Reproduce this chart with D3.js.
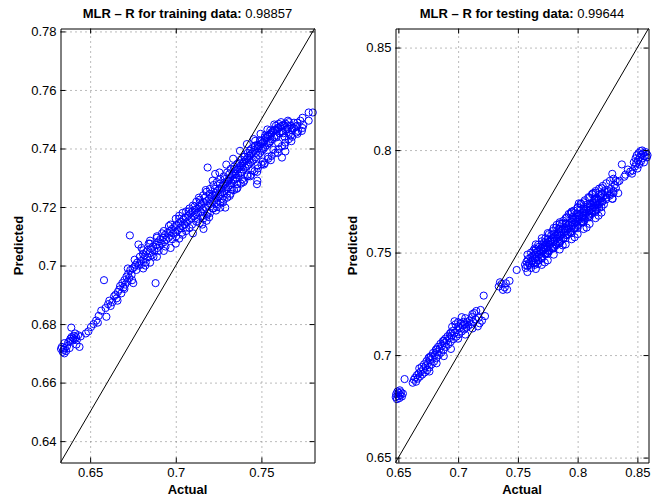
<!DOCTYPE html>
<html lang="en">
<head>
    <meta charset="UTF-8">
    <title>MLR - actual vs predicted</title>
    <script src="https://d3js.org/d3.v7.min.js"></script>
    <style>
        body {
            margin: 0;
            background: #fff;
            font-family: "Liberation Sans", Arial, Helvetica, sans-serif;
        }
        svg {
            display: block;
        }
        text {
            font-size: 13px;
            fill: #000;
        }
        .grid line {
            stroke: #777;
            stroke-dasharray: 1,4;
        }
        .grid path {
            display: none;
        }
    </style>
</head>
<body>

    <div id="container"></div>

    <script>

        // training data: [actual, predicted]
        const trainData = [
            [0.6330,0.6715],[0.6335,0.6722],[0.6340,0.6705],[0.6345,0.6712],[0.6350,0.6700],[0.6352,0.6718],
            [0.6360,0.6708],[0.6365,0.6725],[0.6372,0.6738],[0.6380,0.6742],[0.6385,0.6750],[0.6390,0.6788],
            [0.6392,0.6756],[0.6398,0.6744],[0.6402,0.6752],[0.6405,0.6760],[0.6410,0.6748],[0.6412,0.6768],
            [0.6418,0.6755],[0.6422,0.6745],[0.6430,0.6762],[0.6438,0.6722],[0.6445,0.6758],[0.6350,0.6735],
            [0.6420,0.6730],[0.6380,0.6718],
            [0.6475,0.6768],[0.6490,0.6775],[0.6505,0.6790],[0.6520,0.6800],[0.6535,0.6812],[0.6545,0.6805],
            [0.6550,0.6828],[0.6565,0.6846],[0.6581,0.6950],[0.6590,0.6855],[0.6595,0.6825],[0.6605,0.6868],
            [0.6612,0.6880],[0.6620,0.6862],[0.6630,0.6875],[0.6640,0.6895],[0.6648,0.6900],[0.6655,0.6888],
            [0.6662,0.6910],[0.6670,0.6918],[0.6675,0.6930],[0.6682,0.6905],[0.6688,0.6940],[0.6695,0.6925],
            [0.6700,0.6950],[0.6705,0.6935],[0.6712,0.6962],[0.6718,0.6945],[0.6722,0.6972],[0.6728,0.6958],
            [0.6732,0.7103],[0.6735,0.6985],[0.6742,0.6968],[0.6748,0.6990],[0.6752,0.6940],[0.6758,0.6995],
            [0.6765,0.7002],[0.6770,0.6985],[0.6775,0.7010],[0.6782,0.7072],[0.6785,0.7000],[0.6790,0.7030],
            [0.6795,0.7015],[0.6800,0.7005],[0.6808,0.7040],[0.6812,0.7022],[0.6818,0.7035],[0.6825,0.7010],
            [0.6830,0.7048],[0.6838,0.7028],[0.6842,0.7075],[0.6848,0.7042],[0.6855,0.7058],[0.6860,0.7035],
            [0.6868,0.7065],[0.6875,0.7050],[0.6882,0.6940],[0.6885,0.7070],[0.6892,0.7060],[0.6898,0.7082],
            [0.6905,0.7068],[0.6910,0.7090],[0.6918,0.7075],[0.6925,0.7095],[0.6932,0.7080],[0.6938,0.7105],
            [0.6945,0.7088],[0.6952,0.7112],[0.6958,0.7095],[0.6965,0.7118],[0.6972,0.7102],[0.6978,0.7125],
            [0.6985,0.7110],[0.6992,0.7132],[0.6998,0.7115],[0.7005,0.7138],[0.7012,0.7120],[0.7018,0.7145],
            [0.7025,0.7128],[0.7030,0.7150],[0.7038,0.7135],[0.7045,0.7158],[0.7052,0.7140],[0.7058,0.7165],
            [0.7065,0.7148],[0.7072,0.7170],[0.7078,0.7155],[0.7085,0.7178],[0.7092,0.7160],[0.7098,0.7185],
            [0.7105,0.7168],[0.7112,0.7190],[0.7118,0.7175],[0.7125,0.7195],[0.7130,0.7180],[0.7138,0.7200],
            [0.7145,0.7185],[0.7150,0.7208],[0.7158,0.7192],[0.7162,0.7125],[0.7165,0.7215],[0.7172,0.7198],
            [0.7180,0.7153],[0.7180,0.7220],[0.7186,0.7335],[0.7188,0.7205],[0.7195,0.7228],[0.7200,0.7210],
            [0.7208,0.7235],[0.7212,0.7218],[0.7218,0.7240],[0.7225,0.7222],[0.7230,0.7313],[0.7232,0.7248],
            [0.7238,0.7230],[0.7245,0.7255],[0.7250,0.7235],[0.7255,0.7262],[0.7260,0.7198],[0.7262,0.7242],
            [0.7268,0.7268],[0.7272,0.7250],[0.7278,0.7275],[0.7282,0.7255],[0.7289,0.7198],[0.7290,0.7280],
            [0.7295,0.7262],[0.7300,0.7288],[0.7305,0.7268],[0.7310,0.7295],[0.7315,0.7275],[0.7320,0.7302],
            [0.7325,0.7282],[0.7330,0.7308],[0.7335,0.7290],[0.7340,0.7315],[0.7345,0.7295],[0.7350,0.7322],
            [0.7355,0.7300],[0.7360,0.7328],[0.7365,0.7308],[0.7370,0.7335],[0.7375,0.7315],[0.7380,0.7342],
            [0.7385,0.7320],[0.7390,0.7348],[0.7395,0.7328],[0.7400,0.7355],[0.7405,0.7335],[0.7410,0.7362],
            [0.7415,0.7340],[0.7420,0.7368],[0.7425,0.7345],[0.7430,0.7375],[0.7435,0.7352],[0.7440,0.7382],
            [0.7445,0.7358],[0.7450,0.7388],[0.7455,0.7362],[0.7460,0.7395],[0.7464,0.7426],[0.7468,0.7370],
            [0.7474,0.7278],[0.7476,0.7290],[0.7478,0.7400],[0.7482,0.7378],[0.7488,0.7408],[0.7492,0.7385],
            [0.7498,0.7415],[0.7502,0.7392],[0.7508,0.7420],[0.7512,0.7398],[0.7518,0.7428],[0.7522,0.7405],
            [0.7528,0.7435],[0.7532,0.7412],[0.7538,0.7440],[0.7542,0.7418],[0.7548,0.7448],[0.7552,0.7425],
            [0.7558,0.7455],[0.7562,0.7432],[0.7568,0.7460],[0.7575,0.7440],[0.7580,0.7465],[0.7588,0.7445],
            [0.7595,0.7470],[0.7600,0.7484],[0.7605,0.7452],[0.7612,0.7475],[0.7620,0.7369],[0.7625,0.7458],
            [0.7632,0.7480],[0.7640,0.7390],[0.7645,0.7465],[0.7652,0.7478],[0.7660,0.7450],[0.7668,0.7478],
            [0.7678,0.7462],[0.7690,0.7470],[0.7700,0.7475],[0.7715,0.7460],[0.7727,0.7495],[0.7736,0.7460],
            [0.7776,0.7523],[0.7776,0.7495],[0.7800,0.7523],
            [0.7002,0.7100],[0.7020,0.7160],[0.7035,0.7112],[0.7060,0.7130],[0.7075,0.7185],[0.7095,0.7140],
            [0.7110,0.7202],[0.7128,0.7160],[0.7140,0.7215],[0.7155,0.7170],[0.7170,0.7232],[0.7185,0.7180],
            [0.7198,0.7245],[0.7215,0.7195],[0.7228,0.7262],[0.7242,0.7210],[0.7258,0.7280],[0.7270,0.7228],
            [0.7285,0.7295],[0.7298,0.7245],[0.7312,0.7312],[0.7328,0.7260],[0.7342,0.7330],[0.7358,0.7278],
            [0.7372,0.7350],[0.7388,0.7295],[0.7402,0.7372],[0.7418,0.7310],[0.7432,0.7392],[0.7448,0.7325],
            [0.7462,0.7410],[0.7478,0.7342],[0.7492,0.7428],[0.7508,0.7355],[0.7522,0.7445],[0.7538,0.7372],
            [0.7552,0.7462],[0.7570,0.7395],[0.7585,0.7478],[0.7598,0.7418],[0.7615,0.7490],[0.7635,0.7440],
            [0.7655,0.7495],[0.7672,0.7445],[0.7690,0.7488],[0.7710,0.7478],[0.7745,0.7480],[0.7705,0.7455],
            [0.6660,0.6880],[0.6700,0.6920],[0.6720,0.6990],[0.6745,0.6950],[0.6760,0.7020],[0.6800,0.7060],
            [0.6822,0.7000],[0.6850,0.7075],[0.6870,0.7030],[0.6890,0.7095],[0.6900,0.7050],[0.6920,0.7110],
            [0.6940,0.7065],[0.6960,0.7135],[0.6980,0.7090],
            [0.7000,0.7075],[0.7000,0.7160],[0.7020,0.7170],[0.7020,0.7092],[0.7040,0.7105],[0.7040,0.7180],
            [0.7060,0.7185],[0.7060,0.7118],[0.7080,0.7128],[0.7080,0.7195],[0.7100,0.7205],[0.7100,0.7110],
            [0.7120,0.7150],[0.7120,0.7218],[0.7140,0.7225],[0.7140,0.7145],[0.7160,0.7160],[0.7160,0.7240],
            [0.7180,0.7252],[0.7180,0.7170],[0.7200,0.7180],[0.7200,0.7262],[0.7220,0.7275],[0.7220,0.7195],
            [0.7240,0.7200],[0.7240,0.7285],[0.7260,0.7295],[0.7260,0.7215],[0.7280,0.7225],[0.7280,0.7305],
            [0.7300,0.7318],[0.7300,0.7232],[0.7320,0.7245],[0.7320,0.7330],[0.7340,0.7338],[0.7340,0.7258],
            [0.7360,0.7265],[0.7360,0.7348],[0.7380,0.7362],[0.7380,0.7280],[0.7400,0.7290],[0.7400,0.7372],
            [0.7420,0.7385],[0.7420,0.7305],[0.7440,0.7310],[0.7440,0.7398],[0.7460,0.7405],[0.7460,0.7322],
            [0.7480,0.7332],[0.7480,0.7412],[0.7500,0.7425],[0.7500,0.7345],[0.7520,0.7350],[0.7520,0.7438],
            [0.7540,0.7445],[0.7540,0.7365],[0.7560,0.7375],[0.7560,0.7452],[0.7580,0.7462],[0.7580,0.7385],
            [0.7600,0.7398],[0.7600,0.7470],[0.7620,0.7478],[0.7620,0.7408],[0.7640,0.7420],[0.7640,0.7485],
            [0.7660,0.7490],[0.7660,0.7432],[0.7680,0.7440],[0.7680,0.7470],[0.7710,0.7450],[0.7710,0.7488],
            [0.7740,0.7470],[0.7740,0.7505],
            [0.6810,0.6990],[0.6810,0.7052],[0.6850,0.7010],[0.6850,0.7085],[0.6890,0.7030],[0.6890,0.7100],
            [0.6930,0.7050],[0.6930,0.7118],[0.6970,0.7060],[0.6970,0.7140],
            [0.7135,0.7232],[0.7175,0.7258],[0.7215,0.7290],[0.7255,0.7318],[0.7295,0.7345],[0.7335,0.7365],
            [0.7375,0.7392],[0.7415,0.7415],[0.7455,0.7432],[0.7495,0.7450],[0.7535,0.7465],[0.7575,0.7482],
            [0.7615,0.7458],[0.7655,0.7468],
            [0.7155,0.7140],[0.7195,0.7165],[0.7235,0.7188],[0.7275,0.7215],[0.7315,0.7238],[0.7355,0.7262],
            [0.7395,0.7285],[0.7435,0.7305],[0.7475,0.7320],[0.7515,0.7345],[0.7555,0.7360],[0.7595,0.7385],
            [0.7635,0.7410],[0.7675,0.7425],
            [0.7228,0.7240],[0.7268,0.7262],[0.7308,0.7290],[0.7348,0.7312],[0.7388,0.7340],[0.7428,0.7362],
            [0.7468,0.7385],[0.7508,0.7402],[0.7548,0.7420],[0.7588,0.7438],[0.7628,0.7452]
        ];

        // testing data: [actual, predicted]
        const testData = [
            [0.6478,0.6795],[0.6482,0.6810],[0.6488,0.6785],[0.6492,0.6822],[0.6498,0.6800],[0.6502,0.6815],
            [0.6508,0.6790],[0.6512,0.6828],[0.6518,0.6805],[0.6522,0.6818],[0.6530,0.6798],[0.6538,0.6812],
            [0.6552,0.6883],
            [0.6620,0.6865],[0.6630,0.6880],[0.6640,0.6890],[0.6648,0.6870],[0.6655,0.6902],[0.6662,0.6885],
            [0.6670,0.6910],[0.6675,0.6935],[0.6680,0.6895],[0.6688,0.6920],[0.6695,0.6942],[0.6700,0.6905],
            [0.6708,0.6930],[0.6715,0.6955],[0.6720,0.6915],[0.6728,0.6945],[0.6735,0.6970],[0.6740,0.6925],
            [0.6748,0.6960],[0.6752,0.6985],[0.6760,0.6940],[0.6765,0.6975],[0.6772,0.6995],[0.6778,0.6955],
            [0.6785,0.6990],[0.6790,0.7010],[0.6798,0.6968],[0.6805,0.7000],[0.6812,0.7025],[0.6818,0.6985],
            [0.6825,0.7015],[0.6832,0.7040],[0.6838,0.7000],[0.6845,0.7030],[0.6852,0.7055],[0.6858,0.7012],
            [0.6865,0.7045],[0.6872,0.7068],[0.6878,0.7025],[0.6885,0.7058],[0.6892,0.7080],[0.6898,0.7040],
            [0.6905,0.7070],[0.6912,0.7092],[0.6918,0.7052],[0.6925,0.7082],[0.6932,0.7105],[0.6938,0.7065],
            [0.6945,0.7095],[0.6950,0.7138],[0.6955,0.7118],[0.6962,0.7078],[0.6970,0.7108],[0.6978,0.7150],
            [0.6985,0.7090],[0.6992,0.7122],[0.7000,0.7140],[0.7008,0.7102],[0.7015,0.7132],[0.7022,0.7155],
            [0.7030,0.7115],[0.7038,0.7145],[0.7045,0.7162],[0.7052,0.7125],[0.7060,0.7150],[0.7068,0.7135],
            [0.7075,0.7160],[0.7085,0.7142],[0.7095,0.7168],[0.7105,0.7150],[0.7115,0.7185],[0.7125,0.7162],
            [0.7135,0.7205],[0.7145,0.7175],[0.7152,0.7215],[0.7165,0.7140],[0.7172,0.7182],[0.7180,0.7155],
            [0.7188,0.7220],[0.7200,0.7168],[0.7214,0.7290],[0.7225,0.7190],
            [0.6760,0.6990],[0.6760,0.6920],[0.6820,0.7030],[0.6820,0.6960],[0.6880,0.7070],[0.6880,0.6995],
            [0.6940,0.7110],[0.6940,0.7030],[0.7000,0.7160],[0.7000,0.7080],[0.7060,0.7180],[0.7060,0.7100],
            [0.7120,0.7200],[0.7120,0.7130],[0.6970,0.7165],[0.7030,0.7185],
            [0.7340,0.7335],[0.7350,0.7355],[0.7364,0.7347],[0.7375,0.7318],[0.7390,0.7330],[0.7400,0.7350],
            [0.7410,0.7320],[0.7430,0.7362],[0.7490,0.7415],
            [0.7560,0.7440],[0.7565,0.7425],[0.7572,0.7455],[0.7580,0.7435],[0.7585,0.7468],[0.7592,0.7448],
            [0.7600,0.7440],[0.7605,0.7475],[0.7612,0.7455],[0.7620,0.7482],[0.7625,0.7462],[0.7632,0.7448],
            [0.7638,0.7490],[0.7645,0.7470],[0.7650,0.7498],[0.7658,0.7478],[0.7662,0.7505],[0.7670,0.7462],
            [0.7675,0.7488],[0.7680,0.7512],[0.7688,0.7495],[0.7695,0.7520],[0.7700,0.7480],[0.7705,0.7505],
            [0.7712,0.7528],[0.7718,0.7512],[0.7725,0.7535],[0.7730,0.7495],[0.7735,0.7520],[0.7742,0.7545],
            [0.7748,0.7528],[0.7755,0.7552],[0.7760,0.7510],[0.7765,0.7538],[0.7772,0.7560],[0.7778,0.7545],
            [0.7785,0.7568],[0.7790,0.7525],[0.7795,0.7552],[0.7802,0.7575],[0.7808,0.7560],[0.7815,0.7582],
            [0.7820,0.7540],[0.7825,0.7568],[0.7832,0.7590],[0.7838,0.7575],[0.7845,0.7598],[0.7850,0.7555],
            [0.7855,0.7582],[0.7862,0.7605],[0.7868,0.7590],[0.7875,0.7612],[0.7880,0.7570],[0.7885,0.7598],
            [0.7892,0.7620],[0.7898,0.7605],[0.7905,0.7628],[0.7910,0.7585],[0.7915,0.7612],[0.7922,0.7635],
            [0.7928,0.7620],[0.7935,0.7642],[0.7940,0.7600],[0.7945,0.7628],[0.7952,0.7650],[0.7958,0.7635],
            [0.7965,0.7658],[0.7970,0.7615],[0.7975,0.7642],[0.7982,0.7665],[0.7988,0.7650],[0.7995,0.7672],
            [0.8000,0.7630],[0.8005,0.7658],[0.8012,0.7680],[0.8018,0.7665],[0.8025,0.7688],[0.8030,0.7645],
            [0.8035,0.7672],[0.8042,0.7695],[0.8048,0.7680],[0.8055,0.7702],[0.8060,0.7660],[0.8065,0.7688],
            [0.8072,0.7710],[0.8078,0.7695],[0.8085,0.7718],[0.8090,0.7675],[0.8095,0.7702],[0.8102,0.7725],
            [0.8108,0.7710],[0.8115,0.7732],[0.8120,0.7690],[0.8125,0.7718],[0.8132,0.7740],[0.8138,0.7722],
            [0.8145,0.7745],[0.8150,0.7705],[0.8155,0.7732],[0.8162,0.7752],[0.8168,0.7735],[0.8175,0.7758],
            [0.8180,0.7718],[0.8188,0.7745],[0.8195,0.7765],[0.8202,0.7748],[0.8210,0.7770],[0.8220,0.7735],
            [0.8230,0.7780],[0.8240,0.7760],[0.8250,0.7795],[0.8260,0.7800],[0.8270,0.7778],[0.8280,0.7810],
            [0.8290,0.7763],[0.8300,0.7790],[0.8310,0.7830],[0.8320,0.7815],[0.8335,0.7845],[0.8340,0.7790],
            [0.8350,0.7850],[0.8370,0.7930],[0.8390,0.7870],[0.8400,0.7880],[0.8420,0.7905],[0.8440,0.7895],
            [0.8455,0.7885],
            [0.8460,0.7900],[0.8470,0.7940],[0.8480,0.7920],[0.8485,0.7960],[0.8490,0.7935],[0.8495,0.7975],
            [0.8500,0.7910],[0.8505,0.7950],[0.8510,0.7985],[0.8515,0.7930],[0.8520,0.7965],[0.8525,0.7995],
            [0.8530,0.7945],[0.8535,0.7978],[0.8540,0.7998],[0.8545,0.7960],[0.8550,0.7985],[0.8555,0.7940],
            [0.8560,0.7970],[0.8570,0.7990],[0.8580,0.7965],[0.8585,0.7975],
            [0.7630,0.7510],[0.7668,0.7445],[0.7720,0.7550],[0.7740,0.7500],[0.7780,0.7585],[0.7800,0.7530],
            [0.7840,0.7615],[0.7860,0.7560],[0.7900,0.7645],[0.7920,0.7590],[0.7960,0.7675],[0.7980,0.7620],
            [0.8020,0.7705],[0.8040,0.7650],[0.8080,0.7735],[0.8100,0.7680],[0.8140,0.7760],[0.8160,0.7710],
            [0.8200,0.7785],[0.8010,0.7740],[0.7950,0.7700],[0.8130,0.7790],[0.7870,0.7640],
            [0.7580,0.7490],[0.7580,0.7405],[0.7610,0.7500],[0.7610,0.7425],[0.7640,0.7520],[0.7640,0.7440],
            [0.7670,0.7538],[0.7670,0.7460],[0.7700,0.7555],[0.7700,0.7475],[0.7730,0.7570],[0.7730,0.7490],
            [0.7760,0.7590],[0.7760,0.7505],[0.7790,0.7605],[0.7790,0.7520],[0.7820,0.7622],[0.7820,0.7535],
            [0.7850,0.7640],[0.7850,0.7550],[0.7880,0.7655],[0.7880,0.7568],[0.7910,0.7672],[0.7910,0.7585],
            [0.7940,0.7690],[0.7940,0.7600],[0.7970,0.7705],[0.7970,0.7618],[0.8000,0.7722],[0.8000,0.7635],
            [0.8030,0.7738],[0.8030,0.7652],[0.8060,0.7755],[0.8060,0.7668],[0.8090,0.7770],[0.8090,0.7685],
            [0.8120,0.7785],[0.8120,0.7700],[0.8150,0.7800],[0.8150,0.7718],[0.8180,0.7812],[0.8180,0.7735],
            [0.8210,0.7825],[0.8210,0.7750],[0.8240,0.7838],[0.8240,0.7768],[0.8270,0.7850],[0.8270,0.7785],
            [0.8300,0.7860],[0.8300,0.7800],
            [0.7720,0.7525],[0.7770,0.7555],[0.7830,0.7585],[0.7890,0.7615],[0.7950,0.7648],[0.8010,0.7680],
            [0.8070,0.7712],[0.8130,0.7745],[0.8190,0.7775],
            [0.7650,0.7540],[0.7650,0.7420],[0.7650,0.7515],[0.7650,0.7450],
            [0.7700,0.7570],[0.7700,0.7440],[0.7700,0.7540],[0.7700,0.7470],
            [0.7750,0.7595],[0.7750,0.7462],[0.7750,0.7565],[0.7750,0.7495],
            [0.7800,0.7620],[0.7800,0.7490],[0.7800,0.7590],[0.7800,0.7520],
            [0.7850,0.7648],[0.7850,0.7515],[0.7850,0.7615],[0.7850,0.7545],
            [0.7900,0.7668],[0.7900,0.7540],[0.7900,0.7640],[0.7900,0.7570],
            [0.7950,0.7695],[0.7950,0.7565],[0.7950,0.7665],[0.7950,0.7595],
            [0.8000,0.7718],[0.8000,0.7590],[0.8000,0.7690],[0.8000,0.7620],
            [0.8050,0.7745],[0.8050,0.7615],[0.8050,0.7715],[0.8050,0.7648],
            [0.8100,0.7768],[0.8100,0.7640],[0.8100,0.7740],[0.8100,0.7672],
            [0.8150,0.7792],[0.8150,0.7668],[0.8150,0.7762],[0.8150,0.7698],
            [0.8200,0.7815],[0.8200,0.7695],[0.8200,0.7788],[0.8200,0.7722],
            [0.7675,0.7528],[0.7725,0.7452],[0.7825,0.7635],[0.7875,0.7535],[0.7925,0.7688],[0.7975,0.7575],
            [0.8025,0.7738],[0.8075,0.7622],[0.8125,0.7785],[0.8175,0.7680],[0.8225,0.7800],[0.8293,0.7762],
            [0.8318,0.7850],[0.8290,0.7884]
        ];

        // axis limits and ticks
        const trainDomain = [0.6327, 0.7810];
        const testDomain = [0.6476, 0.8593];
        const trainXTicks = [0.65, 0.7, 0.75];
        const trainYTicks = [0.64, 0.66, 0.68, 0.7, 0.72, 0.74, 0.76, 0.78];
        const testXTicks = [0.65, 0.7, 0.75, 0.8, 0.85];
        const testYTicks = [0.65, 0.7, 0.75, 0.8, 0.85];

        const width = 655;
        const height = 495;

        const svg = d3.select('#container')
            .append('svg')
            .attr('width', width)
            .attr('height', height);

        function drawPanel(opts) {
            const x = d3.scaleLinear().domain(opts.domain).range([opts.left, opts.right]);
            const y = d3.scaleLinear().domain(opts.domain).range([opts.bottom, opts.top]);
            const h = opts.bottom - opts.top;
            const w = opts.right - opts.left;

            const g = svg.append('g');

            // dotted grid
            g.append('g')
                .attr('class', 'grid')
                .attr('transform', `translate(0,${opts.bottom})`)
                .call(d3.axisBottom(x).tickValues(opts.xTicks).tickSize(-h).tickFormat(''));
            g.append('g')
                .attr('class', 'grid')
                .attr('transform', `translate(${opts.left},0)`)
                .call(d3.axisLeft(y).tickValues(opts.yTicks).tickSize(-w).tickFormat(''));

            // points
            g.append('g')
                .selectAll('circle')
                .data(opts.data)
                .enter()
                .append('circle')
                .attr('cx', d => x(d[0]))
                .attr('cy', d => y(d[1]))
                .attr('r', 3.6)
                .attr('fill', 'none')
                .attr('stroke', '#0000ff')
                .attr('stroke-width', 1);

            // y = x line
            g.append('line')
                .attr('x1', x(opts.domain[0]))
                .attr('y1', y(opts.domain[0]))
                .attr('x2', x(opts.domain[1]))
                .attr('y2', y(opts.domain[1]))
                .attr('stroke', '#000')
                .attr('stroke-width', 1);

            // axes with inward ticks on all four sides
            const fmt = d => String(d);
            const bottomAxis = g.append('g')
                .attr('transform', `translate(0,${opts.bottom})`)
                .call(d3.axisBottom(x).tickValues(opts.xTicks).tickSize(-5).tickSizeOuter(0)
                    .tickPadding(5).tickFormat(fmt));
            const topAxis = g.append('g')
                .attr('transform', `translate(0,${opts.top})`)
                .call(d3.axisTop(x).tickValues(opts.xTicks).tickSize(-5).tickSizeOuter(0).tickFormat(''));
            const leftAxis = g.append('g')
                .attr('transform', `translate(${opts.left},0)`)
                .call(d3.axisLeft(y).tickValues(opts.yTicks).tickSize(-5).tickSizeOuter(0)
                    .tickPadding(4).tickFormat(fmt));
            const rightAxis = g.append('g')
                .attr('transform', `translate(${opts.right},0)`)
                .call(d3.axisRight(y).tickValues(opts.yTicks).tickSize(-5).tickSizeOuter(0).tickFormat(''));

            [bottomAxis, topAxis, leftAxis, rightAxis].forEach(a => {
                a.attr('font-size', null).attr('font-family', null);
                a.selectAll('path, line').attr('stroke', '#000');
                a.selectAll('text').attr('fill', '#000');
            });

            // title
            const title = g.append('text')
                .attr('x', (opts.left + opts.right) / 2)
                .attr('y', 18)
                .attr('text-anchor', 'middle');
            title.append('tspan').attr('font-weight', 'bold').text(opts.title);
            title.append('tspan').text(' ' + opts.r);

            // axis labels
            g.append('text')
                .attr('x', (opts.left + opts.right) / 2)
                .attr('y', 493.5)
                .attr('text-anchor', 'middle')
                .attr('font-weight', 'bold')
                .text('Actual');

            g.append('text')
                .attr('transform', `translate(${opts.ylabelX},${(opts.top + opts.bottom) / 2}) rotate(-90)`)
                .attr('text-anchor', 'middle')
                .attr('font-weight', 'bold')
                .text('Predicted');
        }

        drawPanel({
            data: trainData,
            domain: trainDomain,
            xTicks: trainXTicks,
            yTicks: trainYTicks,
            left: 60.5, right: 314.5, top: 28.5, bottom: 462.5,
            ylabelX: 22.5,
            title: 'MLR \u2013 R for training data:',
            r: '0.98857'
        });

        drawPanel({
            data: testData,
            domain: testDomain,
            xTicks: testXTicks,
            yTicks: testYTicks,
            left: 395.5, right: 648.5, top: 28.5, bottom: 462.5,
            ylabelX: 357,
            title: 'MLR \u2013 R for testing data:',
            r: '0.99644'
        });

    </script>

</body>
</html>
